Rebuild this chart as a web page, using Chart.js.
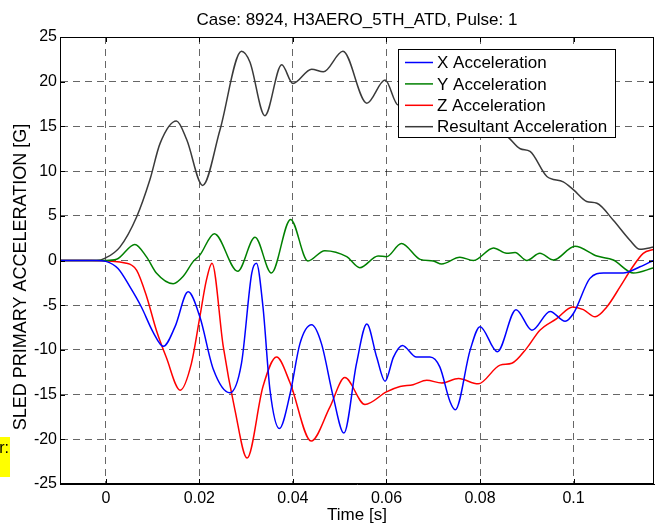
<!DOCTYPE html>
<html>
<head>
<meta charset="utf-8">
<script src="https://cdn.jsdelivr.net/npm/chart.js@4.4.1/dist/chart.umd.min.js"></script>
<style>
  html, body { margin: 0; padding: 0; background: #fff; }
  #wrap { width: 656px; height: 524px; }
</style>
</head>
<body>
<div id="wrap"><canvas id="sledChart" width="656" height="524"></canvas></div>
<script>
// time in seconds, acceleration in G
var xTime = [-0.0098, -0.002, 0, 0.0026, 0.0051, 0.0076, 0.0101, 0.0123, 0.0148, 0.0176, 0.0201, 0.023, 0.0265, 0.029, 0.0312, 0.0322, 0.0336, 0.0351, 0.0371, 0.0394, 0.0415, 0.044, 0.0461, 0.0486, 0.0509, 0.0536, 0.0558, 0.0579, 0.0597, 0.0615, 0.0634, 0.0664, 0.0693, 0.0714, 0.0736, 0.0747, 0.0779, 0.08, 0.0837, 0.0877, 0.0911, 0.095, 0.0982, 0.1, 0.1035, 0.1064, 0.1106, 0.1142, 0.1172];
var xAcc = [0, 0, -0.1, -0.9, -2.9, -5.2, -8, -9.6, -7.4, -3.5, -6.3, -12.2, -14.8, -11.5, -1.4, -0.3, -5.2, -14.5, -18.8, -14.9, -9.3, -7.2, -9.3, -15.2, -19.3, -11.5, -7.1, -10.8, -13.5, -10.8, -9.5, -10.8, -10.8, -11.9, -15.8, -16.7, -10, -7.4, -10.2, -5.5, -7.8, -5.7, -6.8, -5.9, -2.0, -1.4, -1.4, -0.7, 0.05];

var yTime = [-0.0098, 0, 0.0023, 0.0062, 0.0087, 0.0108, 0.0144, 0.0165, 0.0187, 0.0201, 0.0232, 0.0282, 0.0319, 0.0354, 0.0395, 0.0432, 0.0468, 0.0515, 0.0543, 0.0582, 0.06, 0.0632, 0.0672, 0.07, 0.0718, 0.0757, 0.0786, 0.0829, 0.0857, 0.0875, 0.09, 0.0928, 0.0957, 0.1003, 0.105, 0.1085, 0.1128, 0.1172];
var yAcc = [0, 0, 0.13, 1.8, 0.4, -1.4, -2.6, -1.8, -0.1, 0.6, 3.0, -1.2, 2.6, -1.4, 4.6, -0.05, 1.1, 0.43, -0.8, 0.5, 0.43, 1.9, 0.13, -0.05, -0.4, 0.36, 0, 1.4, 0.8, 0.9, 0, 0.8, 0.05, 1.6, 0.5, 0.05, -1.4, -0.8];

var zTime = [-0.0098, -0.003, 0.0044, 0.0066, 0.0087, 0.0108, 0.0129, 0.0159, 0.0183, 0.0201, 0.0215, 0.0227, 0.0251, 0.0276, 0.0302, 0.0336, 0.0365, 0.0394, 0.0439, 0.0479, 0.0511, 0.0554, 0.06, 0.0629, 0.0657, 0.0686, 0.0718, 0.0754, 0.0796, 0.0843, 0.0868, 0.09, 0.0928, 0.0964, 0.0998, 0.1021, 0.1046, 0.1071, 0.11, 0.1124, 0.1149, 0.1172];
var zAcc = [0, 0, -0.3, -1.1, -4, -7.8, -10.8, -14.5, -11.5, -6.3, -2.2, -0.3, -9.6, -16.7, -22.1, -14.1, -10.8, -13.7, -20.2, -16.4, -13.1, -16.1, -14.7, -14.1, -13.9, -13.4, -13.7, -13.2, -13.8, -11.7, -11.5, -9.8, -7.8, -6.5, -5.2, -5.5, -6.3, -5.2, -2.9, -0.9, 0.8, 1.25];

var rTime = [-0.0098, -0.002, 0, 0.003, 0.0066, 0.0094, 0.0116, 0.0151, 0.0173, 0.0207, 0.0244, 0.029, 0.0308, 0.034, 0.0376, 0.040, 0.044, 0.0465, 0.0507, 0.0558, 0.0597, 0.0625, 0.066, 0.07, 0.075, 0.08, 0.084, 0.086, 0.0886, 0.0907, 0.0943, 0.0978, 0.1, 0.1028, 0.105, 0.1085, 0.112, 0.1142, 0.1172];
var rAcc = [0, 0, 0.3, 1.5, 4.9, 9, 13.1, 15.6, 13.5, 8.4, 14.6, 23.4, 22.2, 16.2, 21.9, 19.8, 21.4, 21.1, 23.4, 17.6, 20.2, 17.4, 18, 17, 16.5, 15.5, 14.5, 13.8, 12.5, 12.2, 9.4, 8.8, 7.9, 6.6, 6.4, 4.5, 2.3, 1.25, 1.5];

var xTicks = [0, 0.02, 0.04, 0.06, 0.08, 0.1];
var xTickLabels = ['0', '0.02', '0.04', '0.06', '0.08', '0.1'];
var yTicks = [-25, -20, -15, -10, -5, 0, 5, 10, 15, 20, 25];

var seriesNames = ['X Acceleration', 'Y Acceleration', 'Z Acceleration', 'Resultant Acceleration'];
var seriesColors = ['#0000ff', '#008000', '#ff0000', '#3a3a3a'];

var chartTitle = 'Case: 8924, H3AERO_5TH_ATD, Pulse: 1';
var xTitle = 'Time [s]';
var yTitle = 'SLED PRIMARY ACCELERATION [G]';

var FONT = '"Liberation Sans", Arial, sans-serif';

function pts(ts, vs) {
  return ts.map(function (t, i) { return { x: t, y: vs[i] }; });
}

var allData = [pts(xTime, xAcc), pts(yTime, yAcc), pts(zTime, zAcc), pts(rTime, rAcc)];

var datasets = allData.map(function (d, i) {
  return {
    label: seriesNames[i],
    data: d,
    borderColor: seriesColors[i],
    backgroundColor: seriesColors[i],
    borderWidth: 1.5,
    pointRadius: 0,
    cubicInterpolationMode: 'monotone',
    fill: false
  };
});

// frame, inner ticks, texts and the boxed legend, matlab style
var decor = {
  id: 'decor',
  afterDatasetsDraw: function (chart) {
    var ctx = chart.ctx;
    var a = chart.chartArea;
    var sx = chart.scales.x, sy = chart.scales.y;
    ctx.save();
    ctx.strokeStyle = '#000';
    ctx.lineWidth = 1;
    ctx.setLineDash([]);
    ctx.strokeRect(a.left + 0.5, a.top + 0.5, a.right - a.left - 1, a.bottom - a.top - 1);

    ctx.beginPath();
    xTicks.forEach(function (t) {
      var px = Math.round(sx.getPixelForValue(t)) + 0.5;
      ctx.moveTo(px, a.bottom); ctx.lineTo(px, a.bottom - 5);
      ctx.moveTo(px, a.top); ctx.lineTo(px, a.top + 5);
    });
    yTicks.forEach(function (v) {
      var py = Math.round(sy.getPixelForValue(v)) + 0.5;
      ctx.moveTo(a.left, py); ctx.lineTo(a.left + 5, py);
      ctx.moveTo(a.right, py); ctx.lineTo(a.right - 5, py);
    });
    ctx.stroke();

    // legend box
    var lx = 398, ly = 49, lw = 217, lh = 88;
    ctx.fillStyle = '#fff';
    ctx.fillRect(lx, ly, lw, lh);
    ctx.strokeRect(lx + 0.5, ly + 0.5, lw, lh);
    ctx.font = '17px ' + FONT;
    ctx.textBaseline = 'middle';
    ctx.textAlign = 'left';
    chart.data.datasets.forEach(function (ds, i) {
      var yy = 62.5 + i * 21.4;
      ctx.strokeStyle = ds.borderColor;
      ctx.lineWidth = 1.5;
      ctx.beginPath();
      ctx.moveTo(405, yy); ctx.lineTo(433, yy);
      ctx.stroke();
      ctx.fillStyle = '#000';
      ctx.fillText(ds.label, 437, yy + 1);
    });

    // titles
    ctx.fillStyle = '#000';
    ctx.textAlign = 'center';
    ctx.font = '17px ' + FONT;
    ctx.fillText(chartTitle, (a.left + a.right) / 2, 20);
    ctx.fillText(xTitle, (a.left + a.right) / 2, 515);
    ctx.save();
    ctx.font = '18px ' + FONT;
    ctx.translate(21, 277);
    ctx.rotate(-Math.PI / 2);
    ctx.fillText(yTitle, 0, 0);
    ctx.restore();

    // stray yellow tooltip at the left edge
    ctx.fillStyle = '#ffff00';
    ctx.fillRect(0, 437, 10, 40);
    ctx.fillStyle = '#000';
    ctx.textAlign = 'right';
    ctx.font = '16px ' + FONT;
    ctx.fillText('r:', 9, 449);
    ctx.restore();
  }
};

var myChart = new Chart(document.getElementById('sledChart').getContext('2d'), {
  type: 'line',
  data: { datasets: datasets },
  options: {
    responsive: false,
    animation: false,
    layout: { padding: { top: 37, right: 2, left: 0, bottom: 0 } },
    plugins: {
      legend: { display: false },
      title: { display: false },
      tooltip: { enabled: false }
    },
    scales: {
      x: {
        type: 'linear',
        min: -0.0098,
        max: 0.1172,
        afterBuildTicks: function (scale) {
          scale.ticks = xTicks.map(function (v) { return { value: v }; });
        },
        afterFit: function (scale) { scale.height = 40; },
        ticks: {
          color: '#000',
          font: { family: FONT, size: 16 },
          padding: 5,
          maxRotation: 0,
          autoSkip: false,
          callback: function (v) {
            var i = xTicks.indexOf(v);
            return i >= 0 ? xTickLabels[i] : '';
          }
        },
        grid: { color: 'rgba(0,0,0,0.6)', lineWidth: 1, drawTicks: false },
        border: { display: true, color: '#000', dash: [7, 5] }
      },
      y: {
        type: 'linear',
        min: -25,
        max: 25,
        afterBuildTicks: function (scale) {
          scale.ticks = yTicks.map(function (v) { return { value: v }; });
        },
        afterFit: function (scale) { scale.width = 60; },
        ticks: {
          color: '#000',
          font: { family: FONT, size: 16 },
          padding: 3,
          callback: function (v) { return String(v); }
        },
        grid: { color: 'rgba(0,0,0,0.6)', lineWidth: 1, drawTicks: false },
        border: { display: true, color: '#000', dash: [7, 5] }
      }
    }
  },
  plugins: [decor]
});
</script>
</body>
</html>
